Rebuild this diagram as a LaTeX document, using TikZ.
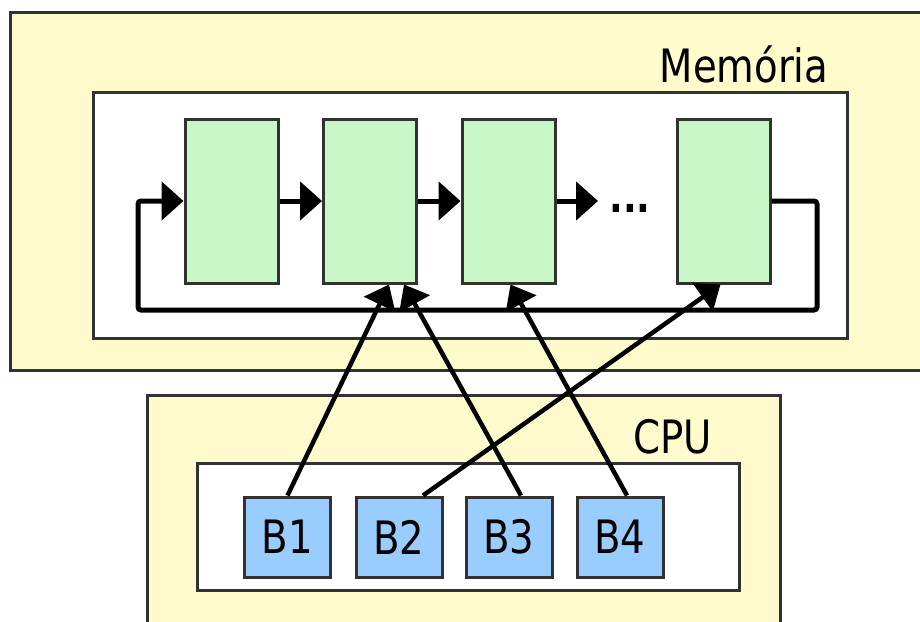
\documentclass[tikz,border=0pt]{standalone}
\usepackage{fontspec}
\setmainfont{DejaVu Sans}[FakeStretch=0.84]
\usetikzlibrary{arrows.meta}
\definecolor{yel}{RGB}{255,251,204}
\definecolor{grn}{RGB}{200,248,200}
\definecolor{blu}{RGB}{153,204,255}
\definecolor{edge}{RGB}{50,50,50}
\tikzset{
  region/.style={draw=edge, line width=3pt, fill=yel},
  inner/.style={draw=edge, line width=3pt, fill=white},
  cell/.style={draw=edge, line width=3pt, fill=grn, rectangle, inner sep=0pt, minimum width=93pt, minimum height=164pt},
  breg/.style={draw=edge, line width=3pt, fill=blu, rectangle, inner sep=0pt, minimum width=86pt, minimum height=80pt, font=\fontsize{46}{50}\selectfont},
  lbl/.style={font=\fontsize{46}{50}\selectfont, inner sep=0pt, anchor=base},
  arr/.style={line width=5pt, -{Triangle[length=22pt,width=38pt]}},
  darr/.style={line width=4.5pt, -{Triangle[length=22pt,width=34pt]}}
}
\begin{document}
\begin{tikzpicture}[x=1pt,y=-1pt]
\useasboundingbox (0,0) rectangle (920,621);
% memory region
\draw[region] (10,12) rectangle (940,370);
\draw[inner] (93,92) rectangle (847,338);
\node[lbl] (mem) at (744,82) {Memória};
% CPU region
\draw[region] (147,395) rectangle (780,640);
\draw[inner] (197,463) rectangle (739,590);
\node[lbl] (cpu) at (673,453) {CPU};
% memory cells
\node[cell] (g1) at (231.5,201) {};
\node[cell] (g2) at (370,201) {};
\node[cell] (g3) at (508.5,201) {};
\node[cell] (g4) at (723.5,201) {};
\coordinate (dend) at (598,201);
\node[font=\fontsize{43}{50}\selectfont\bfseries, inner sep=0pt, anchor=base] (dots) at (630,212) {...};
\draw[arr] (g1.east) -- (g2.west);
\draw[arr] (g2.east) -- (g3.west);
\draw[arr] (g3.east) -- (dend);
\coordinate (lr) at (817,310);
\coordinate (ll) at (138,310);
\draw[arr, rounded corners=3pt] (g4.east) -| (lr) -- (ll) |- (g1.west);
% CPU registers
\node[breg] (b1) at (287.5,537) {B1};
\node[breg] (b2) at (399,537) {B2};
\node[breg] (b3) at (509,537) {B3};
\node[breg] (b4) at (620,537) {B4};
\draw[darr] (b1.north) -- ([xshift=19pt]g2.south);
\draw[darr] ([xshift=12pt]b3.north) -- ([xshift=34pt]g2.south);
\draw[darr] ([xshift=7pt]b4.north) -- ([xshift=2pt]g3.south);
\draw[darr] ([xshift=24pt]b2.north) -- ([xshift=-3pt]g4.south);
\end{tikzpicture}
\end{document}
